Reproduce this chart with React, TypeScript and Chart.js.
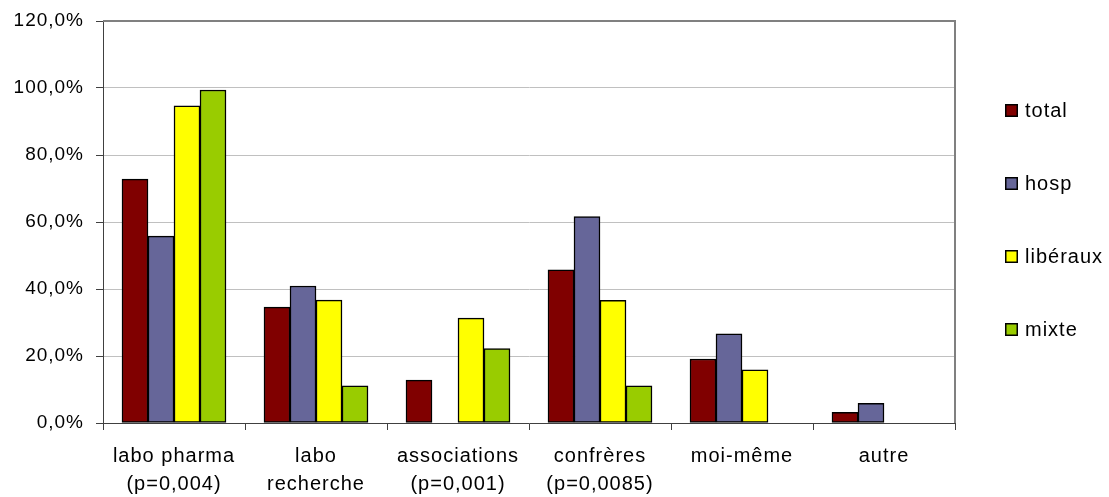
import React, { useEffect, useRef } from "react";
import { Chart, registerables } from "chart.js";

Chart.register(...registerables);

const categories: (string | string[])[] = [
  ["labo pharma", "(p=0,004)"],
  ["labo", "recherche"],
  ["associations", "(p=0,001)"],
  ["confrères", "(p=0,0085)"],
  "moi-même",
  "autre",
];

const seriesNames = ["total", "hosp", "libéraux", "mixte"];
const seriesColors = ["#800000", "#666699", "#FFFF00", "#99CC00"];

const totalValues = [72.8, 34.6, 12.8, 45.7, 19.1, 3.2];
const hospValues = [55.8, 40.9, 0, 61.6, 26.6, 5.9];
const liberauxValues = [94.7, 36.7, 31.3, 36.6, 15.9, 0];
const mixteValues = [99.4, 11.1, 22.2, 11.1, 0, 0];

const yTicks = [0, 20, 40, 60, 80, 100, 120];

const FONT = "'Liberation Sans', Arial, sans-serif";

const spacingPlugin = {
  id: "spacing",
  beforeUpdate(chart: any) {
    chart.ctx.letterSpacing = "1px";
  },
  beforeDraw(chart: any) {
    chart.ctx.letterSpacing = "1px";
  },
};

const framePlugin = {
  id: "frame",
  afterDatasetsDraw(chart: any) {
    const { ctx, chartArea } = chart;
    ctx.save();
    ctx.strokeStyle = "#808080";
    ctx.lineWidth = 2;
    ctx.beginPath();
    ctx.moveTo(chartArea.left, chartArea.top);
    ctx.lineTo(chartArea.right, chartArea.top);
    ctx.lineTo(chartArea.right, chartArea.bottom);
    ctx.stroke();
    ctx.restore();
  },
};

const legendPlugin = {
  id: "sideLegend",
  afterDraw(chart: any) {
    const { ctx, chartArea } = chart;
    ctx.save();
    ctx.letterSpacing = "1px";
    ctx.font = `20px ${FONT}`;
    ctx.textBaseline = "middle";
    ctx.textAlign = "left";
    const x = chartArea.right + 50;
    const y0 = chartArea.top + 89;
    const step = 73;
    chart.data.datasets.forEach((ds: any, i: number) => {
      const y = Math.round(y0 + i * step);
      ctx.fillStyle = "#000";
      ctx.fillRect(x, y - 6, 13, 13);
      ctx.fillStyle = ds.backgroundColor;
      ctx.fillRect(x + 1.5, y - 4.5, 10, 10);
      ctx.fillStyle = "#000";
      ctx.fillText(ds.label, x + 20, y + 1);
    });
    ctx.restore();
  },
};

export default function App() {
  const canvasRef = useRef<HTMLCanvasElement | null>(null);

  useEffect(() => {
    document.body.style.margin = "0";
    const canvas = canvasRef.current!;
    const seriesValues = [totalValues, hospValues, liberauxValues, mixteValues];
    const chart = new Chart(canvas, {
      type: "bar",
      data: {
        labels: categories,
        datasets: seriesNames.map((name, i) => ({
          label: name,
          data: seriesValues[i],
          backgroundColor: seriesColors[i],
          borderColor: "#000000",
          borderWidth: 1.5,
          borderSkipped: false,
          barThickness: 26,
        })),
      },
      options: {
        responsive: false,
        animation: false,
        devicePixelRatio: 1,
        layout: { padding: { top: 21, right: 154, left: 0, bottom: 0 } },
        plugins: {
          legend: { display: false },
          tooltip: { enabled: false },
        },
        scales: {
          x: {
            grid: {
              display: true,
              drawOnChartArea: false,
              drawTicks: true,
              tickLength: 7,
              tickColor: "#404040",
              offset: true,
            },
            border: { display: true, color: "#404040", width: 1 },
            ticks: {
              color: "#000",
              font: { family: FONT, size: 20, lineHeight: 1.4 },
              padding: 12,
              maxRotation: 0,
              autoSkip: false,
            },
            afterFit(scale: any) {
              scale.height = 74;
              scale.paddingLeft = 0;
              scale.paddingRight = 0;
            },
          },
          y: {
            min: 0,
            max: 120,
            afterBuildTicks(scale: any) {
              scale.ticks = yTicks.map((v) => ({ value: v }));
            },
            grid: {
              color: "#c0c0c0",
              lineWidth: 1,
              drawTicks: true,
              tickLength: 7,
              tickColor: "#404040",
            },
            border: { display: true, color: "#404040", width: 1 },
            ticks: {
              color: "#000",
              font: { family: FONT, size: 19 },
              padding: 12,
              callback: (v: any) => Number(v).toFixed(1).replace(".", ",") + "%",
            },
            afterFit(scale: any) {
              scale.width = 103;
              scale.paddingTop = 0;
              scale.paddingBottom = 0;
            },
          },
        },
      },
      plugins: [spacingPlugin, framePlugin, legendPlugin],
    });
    return () => chart.destroy();
  }, []);

  return (
    <div style={{ width: 1109, height: 497 }}>
      <canvas ref={canvasRef} width={1109} height={497} style={{ width: 1109, height: 497 }} />
    </div>
  );
}
